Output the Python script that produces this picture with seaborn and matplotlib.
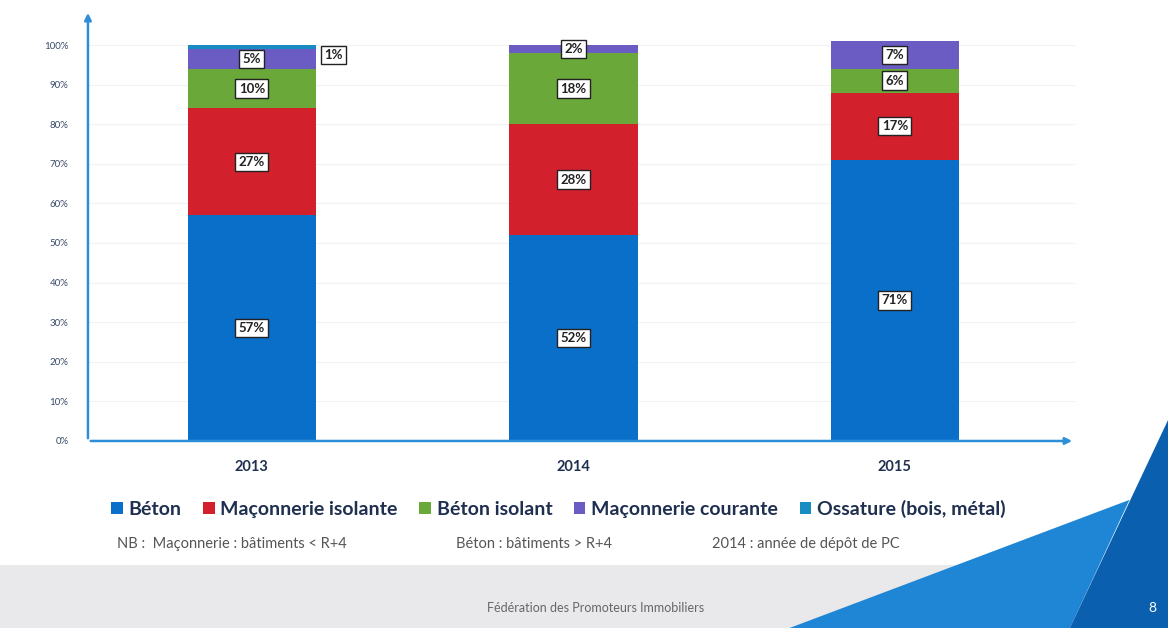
import numpy as np
import pandas as pd
import seaborn as sns
import matplotlib.pyplot as plt
from matplotlib.patches import Rectangle, Polygon

# ==========================
# DATA
# ==========================
years = ["2013", "2014", "2015"]
beton = [57, 52, 71]
maconnerie_isolante = [27, 28, 17]
beton_isolant = [10, 18, 6]
maconnerie_courante = [5, 2, 7]
ossature = [1, 0, 0]

series_names = ["Béton", "Maçonnerie isolante", "Béton isolant",
                "Maçonnerie courante", "Ossature (bois, métal)"]
series_values = [beton, maconnerie_isolante, beton_isolant,
                 maconnerie_courante, ossature]
colors = ["#0a6fc9", "#d2202c", "#6aa83a", "#6b5cc4", "#1a8cc4"]

sns.set_theme(style="white")
plt.rcParams['font.family'] = ['Lato', 'DejaVu Sans']

fig = plt.figure(figsize=(11.68, 6.28), dpi=100)
ax = fig.add_axes([0.0753, 0.2978, 0.845, 0.686])

# stacked bars
bottom = np.zeros(len(years))
for name, vals, col in zip(series_names, series_values, colors):
    frac = np.array(vals) / 100.0
    df = pd.DataFrame({"year": years, "value": frac})
    sns.barplot(data=df, x="year", y="value", bottom=bottom, color=col,
                width=0.4, ax=ax, label=name, saturation=1, linewidth=0)
    for i, v in enumerate(vals):
        if v == 0:
            continue
        yc = bottom[i] + frac[i] / 2
        xc = i
        if v == 1:
            # tiny segment: label sits just right of the bar
            xc = i + 0.255
            yc = bottom[i] - 0.015
        ax.text(xc, yc, f"{v}%", ha="center", va="center", fontsize=9.5,
                fontweight="bold", color="#222222",
                bbox=dict(boxstyle="square,pad=0.25", fc="white", ec="#222222", lw=1))
    bottom = bottom + frac

ax.set_xlim(-0.51, 2.56)
ax.set_ylim(0, 1.088)
ax.set_yticks(np.arange(0, 1.01, 0.1))
ax.set_yticklabels([f"{int(round(t * 100))}%" for t in np.arange(0, 1.01, 0.1)],
                   fontsize=7, color="#3a4a6a")
ax.set_xticks(range(len(years)))
ax.set_xticklabels(years, fontsize=10.5, fontweight="bold", color="#1f2f4f")
ax.tick_params(axis="x", pad=14, length=0)
ax.tick_params(axis="y", pad=14, length=0)
ax.set_xlabel("")
ax.set_ylabel("")
for s in ax.spines.values():
    s.set_visible(False)
for t in np.arange(0.1, 1.01, 0.1):
    ax.axhline(t, color="#f2f2f2", lw=0.8, zorder=0)

# arrow axes
arrow_kw = dict(arrowstyle="-|>", color="#2e8fd8", lw=1.8, mutation_scale=10)
ax.annotate("", xy=(0, 1.0), xytext=(0, 0), xycoords="axes fraction",
            textcoords="axes fraction", arrowprops=arrow_kw, annotation_clip=False)
ax.annotate("", xy=(1.0, 0), xytext=(0, 0), xycoords="axes fraction",
            textcoords="axes fraction", arrowprops=arrow_kw, annotation_clip=False)

# legend
handles, labels = ax.get_legend_handles_labels()
ax.get_legend().remove()
fig.legend(handles, labels, loc="center", bbox_to_anchor=(0.478, 0.19), ncol=5,
           frameon=False, handlelength=0.6, handleheight=0.6, handletextpad=0.3,
           columnspacing=1.1, prop={"size": 14, "weight": "bold"},
           labelcolor="#1f2f4f")

# notes
fig.text(0.10, 0.127, "NB :  Maçonnerie : bâtiments < R+4", fontsize=10.5, color="#555555")
fig.text(0.39, 0.127, "Béton : bâtiments > R+4", fontsize=10.5, color="#555555")
fig.text(0.61, 0.127, "2014 : année de dépôt de PC", fontsize=10.5, color="#555555")

# footer band and decoration
fig.patches.append(Rectangle((0, 0), 1, 0.10, transform=fig.transFigure,
                             fc="#e9e9ec", ec="none", zorder=-1))
fig.patches.append(Polygon([(0.676, 0), (0.967, 0.204), (0.916, 0)], closed=True,
                           transform=fig.transFigure, fc="#1f86d6", ec="none", zorder=0))
fig.patches.append(Polygon([(0.916, 0), (1, 0.331), (1, 0)], closed=True,
                           transform=fig.transFigure, fc="#0a5fae", ec="none", zorder=0))
fig.text(0.51, 0.025, "Fédération des Promoteurs Immobiliers", ha="center",
         fontsize=9, color="#666666")
fig.text(0.99, 0.025, "8", ha="right", fontsize=10, color="white")

fig.savefig("out.png", dpi=100)
